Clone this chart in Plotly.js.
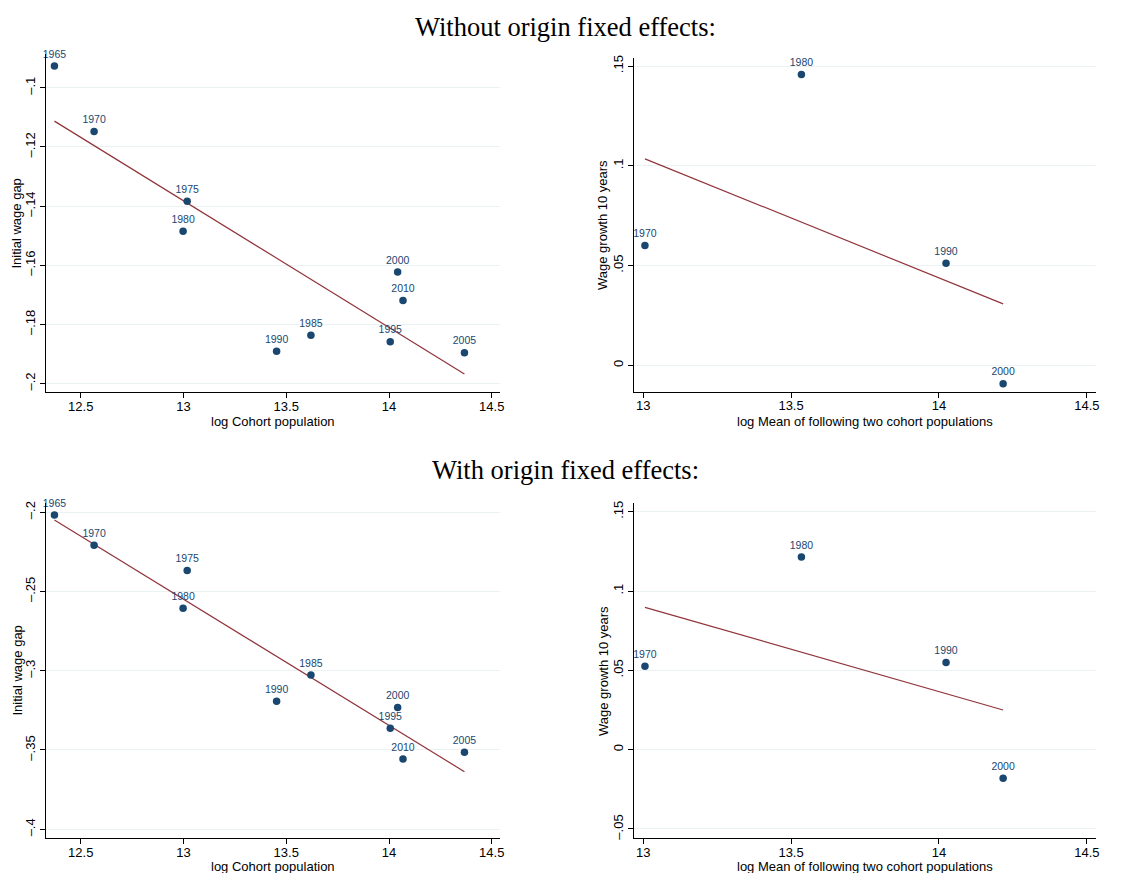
<!DOCTYPE html>
<html>
<head>
<meta charset="utf-8">
<script src="https://cdn.plot.ly/plotly-3.0.1.min.js"></script>
<style>
  html, body { margin: 0; padding: 0; background: #fff; }
  #chart { width: 1131px; height: 873px; }
</style>
</head>
<body>
<div id="chart"></div>
<script>
// Cohort entry years and log cohort population (left panels)
const cohortYears = ['1965', '1970', '1975', '1980', '1985', '1990', '1995', '2000', '2005', '2010'];
const logCohortPop = [12.372, 12.565, 13.018, 12.998, 13.620, 13.453, 14.006, 14.042, 14.367, 14.068];
const gapNoFE = [-0.0927, -0.1148, -0.1384, -0.1485, -0.1837, -0.1891, -0.1859, -0.1623, -0.1896, -0.1720];
const gapFE = [-0.2019, -0.2210, -0.2368, -0.2607, -0.3027, -0.3193, -0.3363, -0.3233, -0.3515, -0.3557];

// Census years and log mean of the following two cohort populations (right panels)
const growthYears = ['1970', '1980', '1990', '2000'];
const logMeanNextPop = [13.006, 13.535, 14.024, 14.217];
const growthNoFE = [0.0600, 0.1458, 0.0512, -0.0092];
const growthFE = [0.0525, 0.1214, 0.0550, -0.0181];

// Linear fit lines (endpoints)
const fitGapX = [12.372, 14.367];
const fitGapNoFE = [-0.1113, -0.1968];
const fitGapFE = [-0.2050, -0.3637];
const fitGrowthX = [13.006, 14.217];
const fitGrowthNoFE = [0.1035, 0.0308];
const fitGrowthFE = [0.0897, 0.0250];

// Tick values and labels
const xTicksGap = [12.5, 13, 13.5, 14, 14.5];
const xTicksGapText = ['12.5', '13', '13.5', '14', '14.5'];
const xTicksGrowth = [13, 13.5, 14, 14.5];
const xTicksGrowthText = ['13', '13.5', '14', '14.5'];
const yTicksGapNoFE = [-0.2, -0.18, -0.16, -0.14, -0.12, -0.1];
const yTicksGapNoFEText = ['\u2013.2', '\u2013.18', '\u2013.16', '\u2013.14', '\u2013.12', '\u2013.1'];
const yTicksGapFE = [-0.4, -0.35, -0.3, -0.25, -0.2];
const yTicksGapFEText = ['\u2013.4', '\u2013.35', '\u2013.3', '\u2013.25', '\u2013.2'];
const yTicksGrowthNoFE = [0, 0.05, 0.1, 0.15];
const yTicksGrowthNoFEText = ['0', '.05', '.1', '.15'];
const yTicksGrowthFE = [-0.05, 0, 0.05, 0.1, 0.15];
const yTicksGrowthFEText = ['\u2013.05', '0', '.05', '.1', '.15'];

const titleTop = 'Without origin fixed effects:';
const titleBottom = 'With origin fixed effects:';
const xTitleGap = 'log Cohort population';
const xTitleGrowth = 'log Mean of following two cohort populations';
const yTitleGap = 'Initial wage gap';
const yTitleGrowth = 'Wage growth 10 years';

const W = 1131, H = 873;
const NAVY = '#1a476f';
const MAROON = '#90353b';
const SANS = 'Liberation Sans, Arial, Helvetica, sans-serif';
const SERIF = 'Liberation Serif, Times New Roman, serif';

function scatter(x, y, labels, xa, ya) {
  return {
    type: 'scatter', mode: 'markers+text', x: x, y: y, text: labels,
    xaxis: xa, yaxis: ya,
    textposition: 'top center',
    textfont: { family: SANS, size: 10.5, color: NAVY },
    marker: { color: NAVY, size: 7.5 },
    cliponaxis: false, hoverinfo: 'skip', showlegend: false
  };
}
function fit(x, y, xa, ya) {
  return {
    type: 'scatter', mode: 'lines', x: x, y: y, xaxis: xa, yaxis: ya,
    line: { color: MAROON, width: 1.2 },
    hoverinfo: 'skip', showlegend: false
  };
}

const traces = [
  fit(fitGapX, fitGapNoFE, 'x', 'y'),
  scatter(logCohortPop, gapNoFE, cohortYears, 'x', 'y'),
  fit(fitGrowthX, fitGrowthNoFE, 'x2', 'y2'),
  scatter(logMeanNextPop, growthNoFE, growthYears, 'x2', 'y2'),
  fit(fitGapX, fitGapFE, 'x3', 'y3'),
  scatter(logCohortPop, gapFE, cohortYears, 'x3', 'y3'),
  fit(fitGrowthX, fitGrowthFE, 'x4', 'y4'),
  scatter(logMeanNextPop, growthFE, growthYears, 'x4', 'y4')
];

// pixel-to-paper helpers
const px = v => v / W;
const py = v => 1 - v / H;

function xAxis(dom, range, vals, text, anchor) {
  return {
    domain: dom, range: range, anchor: anchor,
    tickmode: 'array', tickvals: vals, ticktext: text,
    showline: true, linecolor: '#000', linewidth: 1,
    ticks: 'outside', ticklen: 5, tickcolor: '#000', tickwidth: 1,
    ticklabelstandoff: -3,
    showgrid: false, zeroline: false, automargin: false,
    tickfont: { family: SANS, size: 13, color: '#000' }
  };
}
function yAxis(dom, range, vals, text, anchor) {
  return {
    domain: dom, range: range, anchor: anchor,
    tickmode: 'array', tickvals: vals, ticktext: text, tickangle: -90,
    showline: true, linecolor: '#000', linewidth: 1,
    ticks: 'outside', ticklen: 5, tickcolor: '#000', tickwidth: 1,
    showgrid: true, gridcolor: '#eaf2f3', gridwidth: 1,
    zeroline: false, automargin: false,
    tickfont: { family: SANS, size: 13, color: '#000' }
  };
}

function label(text, xPix, yPix, angle, font) {
  return {
    text: text, xref: 'paper', yref: 'paper', x: px(xPix), y: py(yPix),
    xanchor: 'center', yanchor: 'middle', textangle: angle,
    showarrow: false, font: font
  };
}
const axisTitleFont = { family: SANS, size: 13, color: '#000' };
const headFont = { family: SERIF, size: 26.5, color: '#000' };

const layout = {
  width: W, height: H,
  margin: { l: 0, r: 0, t: 0, b: 0 },
  paper_bgcolor: '#fff', plot_bgcolor: '#fff',
  showlegend: false,
  xaxis: xAxis([px(46), px(500)], [12.331, 14.540], xTicksGap, xTicksGapText, 'y'),
  yaxis: yAxis([py(392), py(54)], [-0.2029, -0.0886], yTicksGapNoFE, yTicksGapNoFEText, 'x'),
  xaxis2: xAxis([px(634.3), px(1096)], [12.970, 14.531], xTicksGrowth, xTicksGrowthText, 'y2'),
  yaxis2: yAxis([py(391.7), py(58.3)], [-0.01324, 0.1539], yTicksGrowthNoFE, yTicksGrowthNoFEText, 'x2'),
  xaxis3: xAxis([px(46), px(500)], [12.331, 14.540], xTicksGap, xTicksGapText, 'y3'),
  yaxis3: yAxis([py(838.3), py(503)], [-0.4057, -0.1943], yTicksGapFE, yTicksGapFEText, 'x3'),
  xaxis4: xAxis([px(634.3), px(1096)], [12.970, 14.531], xTicksGrowth, xTicksGrowthText, 'y4'),
  yaxis4: yAxis([py(838.3), py(503)], [-0.0559, 0.1555], yTicksGrowthFE, yTicksGrowthFEText, 'x4'),
  annotations: [
    label(titleTop, 565.5, 26.5, 0, headFont),
    label(titleBottom, 565.5, 470, 0, headFont),
    label(xTitleGap, 273, 421, 0, axisTitleFont),
    label(xTitleGrowth, 865, 421, 0, axisTitleFont),
    label(xTitleGap, 273, 866, 0, axisTitleFont),
    label(xTitleGrowth, 865, 866, 0, axisTitleFont),
    label(yTitleGap, 16.5, 224, -90, axisTitleFont),
    label(yTitleGrowth, 603, 225, -90, axisTitleFont),
    label(yTitleGap, 16.5, 671, -90, axisTitleFont),
    label(yTitleGrowth, 603, 671, -90, axisTitleFont)
  ]
};

Plotly.newPlot('chart', traces, layout, { staticPlot: true, displayModeBar: false });
</script>
</body>
</html>
